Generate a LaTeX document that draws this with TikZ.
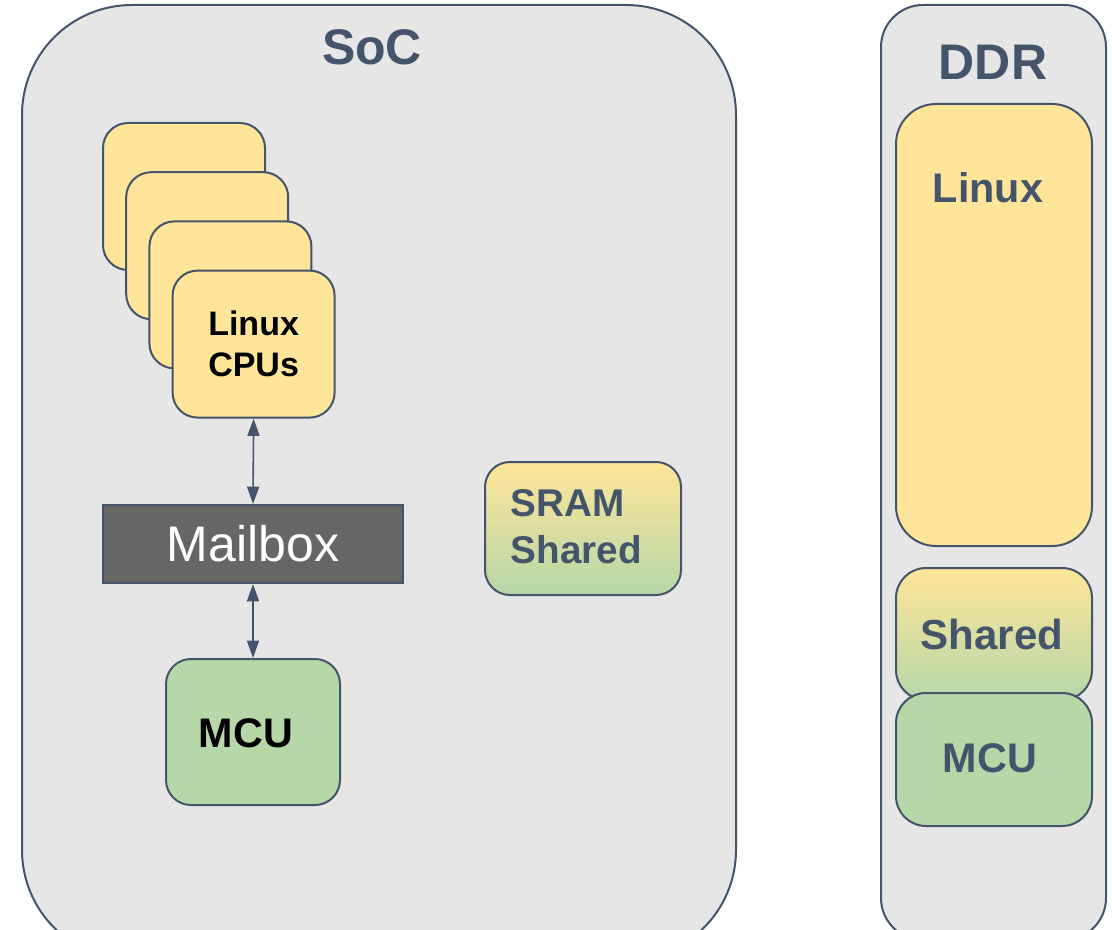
\documentclass[tikz,border=0pt]{standalone}
\usepackage{fontspec}
\setmainfont{Liberation Sans}
\usetikzlibrary{arrows.meta}
\definecolor{slate}{HTML}{44546A}
\definecolor{panel}{HTML}{E6E6E6}
\definecolor{cpuyellow}{HTML}{FFE599}
\definecolor{mcugreen}{HTML}{B6D7A8}
\definecolor{mboxgray}{HTML}{666666}
\tikzset{
  block/.style={draw=slate,line width=1.5pt,rounded corners=#1,inner sep=0pt},
  block/.default=18.75pt,
  title/.style={text=slate,font=\bfseries\fontsize{37.5pt}{40pt}\selectfont},
  tag/.style={text=slate,font=\bfseries\fontsize{#1}{1.22\dimexpr#1}\selectfont,align=left},
  link/.style={{Triangle[length=13pt,width=9pt]}-{Triangle[length=13pt,width=9pt]},draw=slate,fill=slate,line width=1.2pt}
}
\begin{document}
\begin{tikzpicture}[x=0.75pt,y=-0.75pt]
	\useasboundingbox (0,0) rectangle (1112,930);
	\clip (0,0) rectangle (1112,930);
	% SoC
	\node[block=82.5pt,fill=panel,minimum width=535.5pt,minimum height=716.25pt] (soc) at (379,482.5) {};
	\node[title] (soclabel) at (372,47) {SoC};
	% stack of Linux CPUs
	\foreach \i in {0,...,3}
		\node[block,fill=cpuyellow,minimum width=121.5pt,minimum height=110.25pt] (cpu\i) at (184+23.2*\i,196.5+49.2*\i) {};
	\node[align=center,font=\bfseries\fontsize{25.5pt}{30.75pt}\selectfont] (cpulabel) at (cpu3) {Linux\\CPUs};
	\node[draw=slate,line width=1.5pt,fill=mboxgray,minimum width=225pt,minimum height=58.5pt,
		text=white,font=\fontsize{37.5pt}{40pt}\selectfont] (mbox) at (253,544) {Mailbox};
	\node[block,fill=mcugreen,minimum width=130.5pt,minimum height=109.5pt] (mcu) at (253,732) {};
	\node[font=\bfseries\fontsize{31pt}{36pt}\selectfont] (mculabel) at (246,733) {MCU};
	\draw[link] (cpu3.south) -- (mbox.north);
	\draw[link] (mbox.south) -- (mcu.north);
	\node[block,top color=cpuyellow,bottom color=mcugreen,minimum width=147pt,minimum height=99.75pt] (sram) at (583,528.5) {};
	\node[tag=29pt,anchor=west] (sramlabel) at (506,527) {SRAM\\Shared};
	% DDR
	\node[block=31.5pt,fill=panel,minimum width=168.75pt,minimum height=701.25pt] (ddr) at (993.5,472.5) {};
	\node[title] (ddrlabel) at (993,62) {DDR};
	\node[block=30pt,fill=cpuyellow,minimum width=147pt,minimum height=331.5pt] (ddrlinux) at (994,325) {};
	\node[tag=31pt] (linuxlabel) at (988,188) {Linux};
	\node[block=22.5pt,top color=cpuyellow,bottom color=mcugreen,minimum width=147pt,minimum height=99pt] (ddrshared) at (994,634) {};
	\node[tag=31.5pt] (sharedlabel) at (992,634) {Shared};
	\node[block=22.5pt,fill=mcugreen,minimum width=147pt,minimum height=99.75pt] (ddrmcu) at (994,759.5) {};
	\node[tag=31pt] (ddrmculabel) at (990,758) {MCU};
\end{tikzpicture}
\end{document}
